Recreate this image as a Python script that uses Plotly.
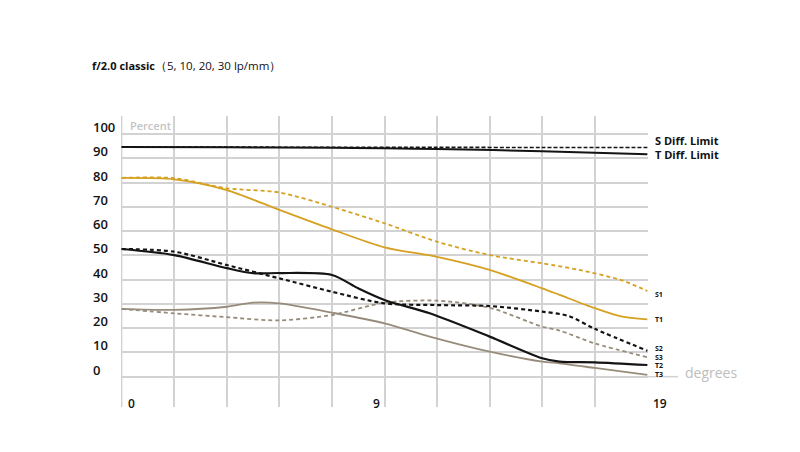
import plotly.graph_objects as go

# ---- data (x in grid units: 0..10, labelled 0, 9, 19 degrees) ----
s_diff_x = [0, 2, 4, 6, 8, 10]
s_diff_y = [94.6, 94.6, 94.5, 94.5, 94.4, 94.4]
t_diff_x = [0, 2, 4, 5, 6, 8, 10]
t_diff_y = [94.6, 94.5, 94.3, 94.1, 93.8, 92.9, 91.6]

s1_x = [0, 1, 2, 3, 4, 5, 6, 7, 8, 8.7, 9.5, 10]
s1_y = [81.9, 81.8, 77.6, 75.9, 70.0, 63.2, 55.6, 50.1, 46.7, 44.0, 39.8, 35.3]
t1_x = [0, 1, 2, 3, 4, 5, 6, 7, 8, 8.33, 9, 9.5, 10]
t1_y = [81.9, 81.3, 76.9, 68.7, 60.7, 53.3, 49.4, 44.0, 36.4, 33.7, 28.2, 24.8, 23.6]

s2_x = [0, 1, 2, 3, 4, 5, 6, 7, 8, 8.5, 9, 10]
s2_y = [52.6, 51.5, 46.0, 40.5, 35.0, 30.2, 29.5, 29.1, 26.8, 25.0, 19.7, 10.7]
t2_x = [0, 1, 2, 2.5, 3, 4, 4.5, 5, 5.86, 7, 8, 8.33, 9, 10]
t2_y = [52.6, 50.1, 44.7, 42.6, 42.7, 41.9, 36.4, 31.6, 26.1, 16.5, 7.6, 6.2, 5.9, 4.8]

s3_x = [0, 1, 2, 3, 4, 5, 6, 7, 8, 8.33, 9, 10]
s3_y = [27.9, 26.1, 24.5, 23.2, 25.4, 30.5, 31.3, 28.4, 20.6, 19.0, 13.7, 8.0]
t3_x = [0, 1, 2, 2.5, 3, 4, 5, 5.86, 7, 8, 8.33, 9, 10]
t3_y = [27.9, 27.5, 28.8, 30.5, 30.2, 26.4, 22.0, 16.5, 10.3, 6.2, 5.5, 3.6, 0.7]

y_tick_vals = [0, 10, 20, 30, 40, 50, 60, 70, 80, 90, 100]
y_tick_text = ["0", "10", "20", "30", "40", "50", "60", "70", "80", "90", "100"]
x_grid_vals = [0, 1, 2, 3, 4, 5, 6, 7, 8, 9, 10]
x_tick_vals = [0, 5, 10]
x_tick_text = ["0", "9", "19"]

end_labels = ["S1", "T1", "S2", "S3", "T2", "T3"]
end_label_pos = [34.0, 23.7, 11.6, 8.0, 4.4, 0.8]
diff_labels = ["S Diff. Limit", "T Diff. Limit"]
diff_label_pos = [97.4, 91.6]

GOLD = "#d6a020"
GRAY = "#978c7c"
BLACK = "#141414"
GRID = "#d2d2d2"
FONT = "Open Sans"

fig = go.Figure()

def add(x, y, color, dash, width=2):
    fig.add_trace(go.Scatter(x=x, y=y, mode="lines",
                             line=dict(color=color, width=width, dash=dash,
                                       shape="spline", smoothing=0.8),
                             hoverinfo="skip", showlegend=False))

add(s_diff_x, s_diff_y, BLACK, "4px,2px", 1.6)
add(t_diff_x, t_diff_y, BLACK, "solid", 2)
add(s1_x, s1_y, GOLD, "4px,3px", 1.8)
add(t1_x, t1_y, GOLD, "solid", 1.8)
add(s3_x, s3_y, GRAY, "4px,3px", 1.8)
add(t3_x, t3_y, GRAY, "solid", 1.8)
add(s2_x, s2_y, BLACK, "4px,3px", 2.2)
add(t2_x, t2_y, BLACK, "solid", 2.2)

ann = []
# y tick labels (left aligned)
for v, t in zip(y_tick_vals, y_tick_text):
    ann.append(dict(x=-0.057, xref="paper", xanchor="left", y=v, yref="y",
                    yanchor="middle", yshift=7, text=t, showarrow=False,
                    font=dict(family=FONT, size=13, color="#111", weight=600)))
# x tick labels
x_shift = {0: 10, 5: -8, 10: 13}
for v, t in zip(x_tick_vals, x_tick_text):
    ann.append(dict(x=v, xref="x", xanchor="center", xshift=x_shift[v],
                    y=0.0137, yref="paper", yanchor="middle", text=t,
                    showarrow=False,
                    font=dict(family=FONT, size=12, color="#111", weight=600)))

# end labels
for lab, v in zip(end_labels, end_label_pos):
    ann.append(dict(x=1.012, xref="paper", xanchor="left", y=v, yref="y",
                    yanchor="middle", text=lab, showarrow=False, borderpad=0,
                    font=dict(family=FONT, size=7, color="#111", weight=700)))
for lab, v in zip(diff_labels, diff_label_pos):
    ann.append(dict(x=1.011, xref="paper", xanchor="left", y=v, yref="y",
                    yanchor="middle", text=lab, showarrow=False, borderpad=0,
                    font=dict(family=FONT, size=11, color="#111", weight=700)))

ann.append(dict(x=0.014, xref="paper", xanchor="left", y=0.969, yref="paper",
                yanchor="middle", text="Percent", showarrow=False,
                font=dict(family=FONT, size=11, color="#c4c4c4", weight=600)))
ann.append(dict(x=1.066, xref="paper", xanchor="left", y=0.117, yref="paper",
                yanchor="middle", text="degrees", showarrow=False,
                font=dict(family=FONT, size=14, color="#bdbdbd")))
ann.append(dict(x=-0.0588, xref="paper", xanchor="left", y=1.175, yref="paper",
                yanchor="middle",
                text="<b>f/2.0 classic</b><span style='font-size:11.5px'>（5, 10, 20, 30 lp/mm）</span>",
                showarrow=False,
                font=dict(family=FONT, size=11, color="#111")))

y_lo, y_hi = -12.5, 107.4
zero_paper = (0 - y_lo) / (y_hi - y_lo)

fig.update_layout(
    width=800, height=452,
    margin=dict(l=113, r=160, t=108, b=53),
    paper_bgcolor="white", plot_bgcolor="white",
    xaxis=dict(range=[-0.012, 10.012], tickvals=x_grid_vals, showticklabels=False,
               showgrid=True, gridcolor=GRID, gridwidth=1.5,
               zeroline=False, showline=False, fixedrange=True),
    yaxis=dict(range=[y_lo, y_hi], tickvals=y_tick_vals, showticklabels=False,
               showgrid=True, gridcolor=GRID, gridwidth=1.5,
               zeroline=False, showline=False, fixedrange=True),
    annotations=ann,
    shapes=[dict(type="line", xref="paper", yref="paper", x0=1.0, x1=1.057,
                 y0=zero_paper, y1=zero_paper,
                 line=dict(color=GRID, width=1.5)),
            dict(type="line", xref="x", yref="paper", x0=x_grid_vals[0],
                 x1=x_grid_vals[0], y0=0, y1=1, layer="below",
                 line=dict(color=GRID, width=1.5))],
    showlegend=False,
)

fig.write_html("out.html")
